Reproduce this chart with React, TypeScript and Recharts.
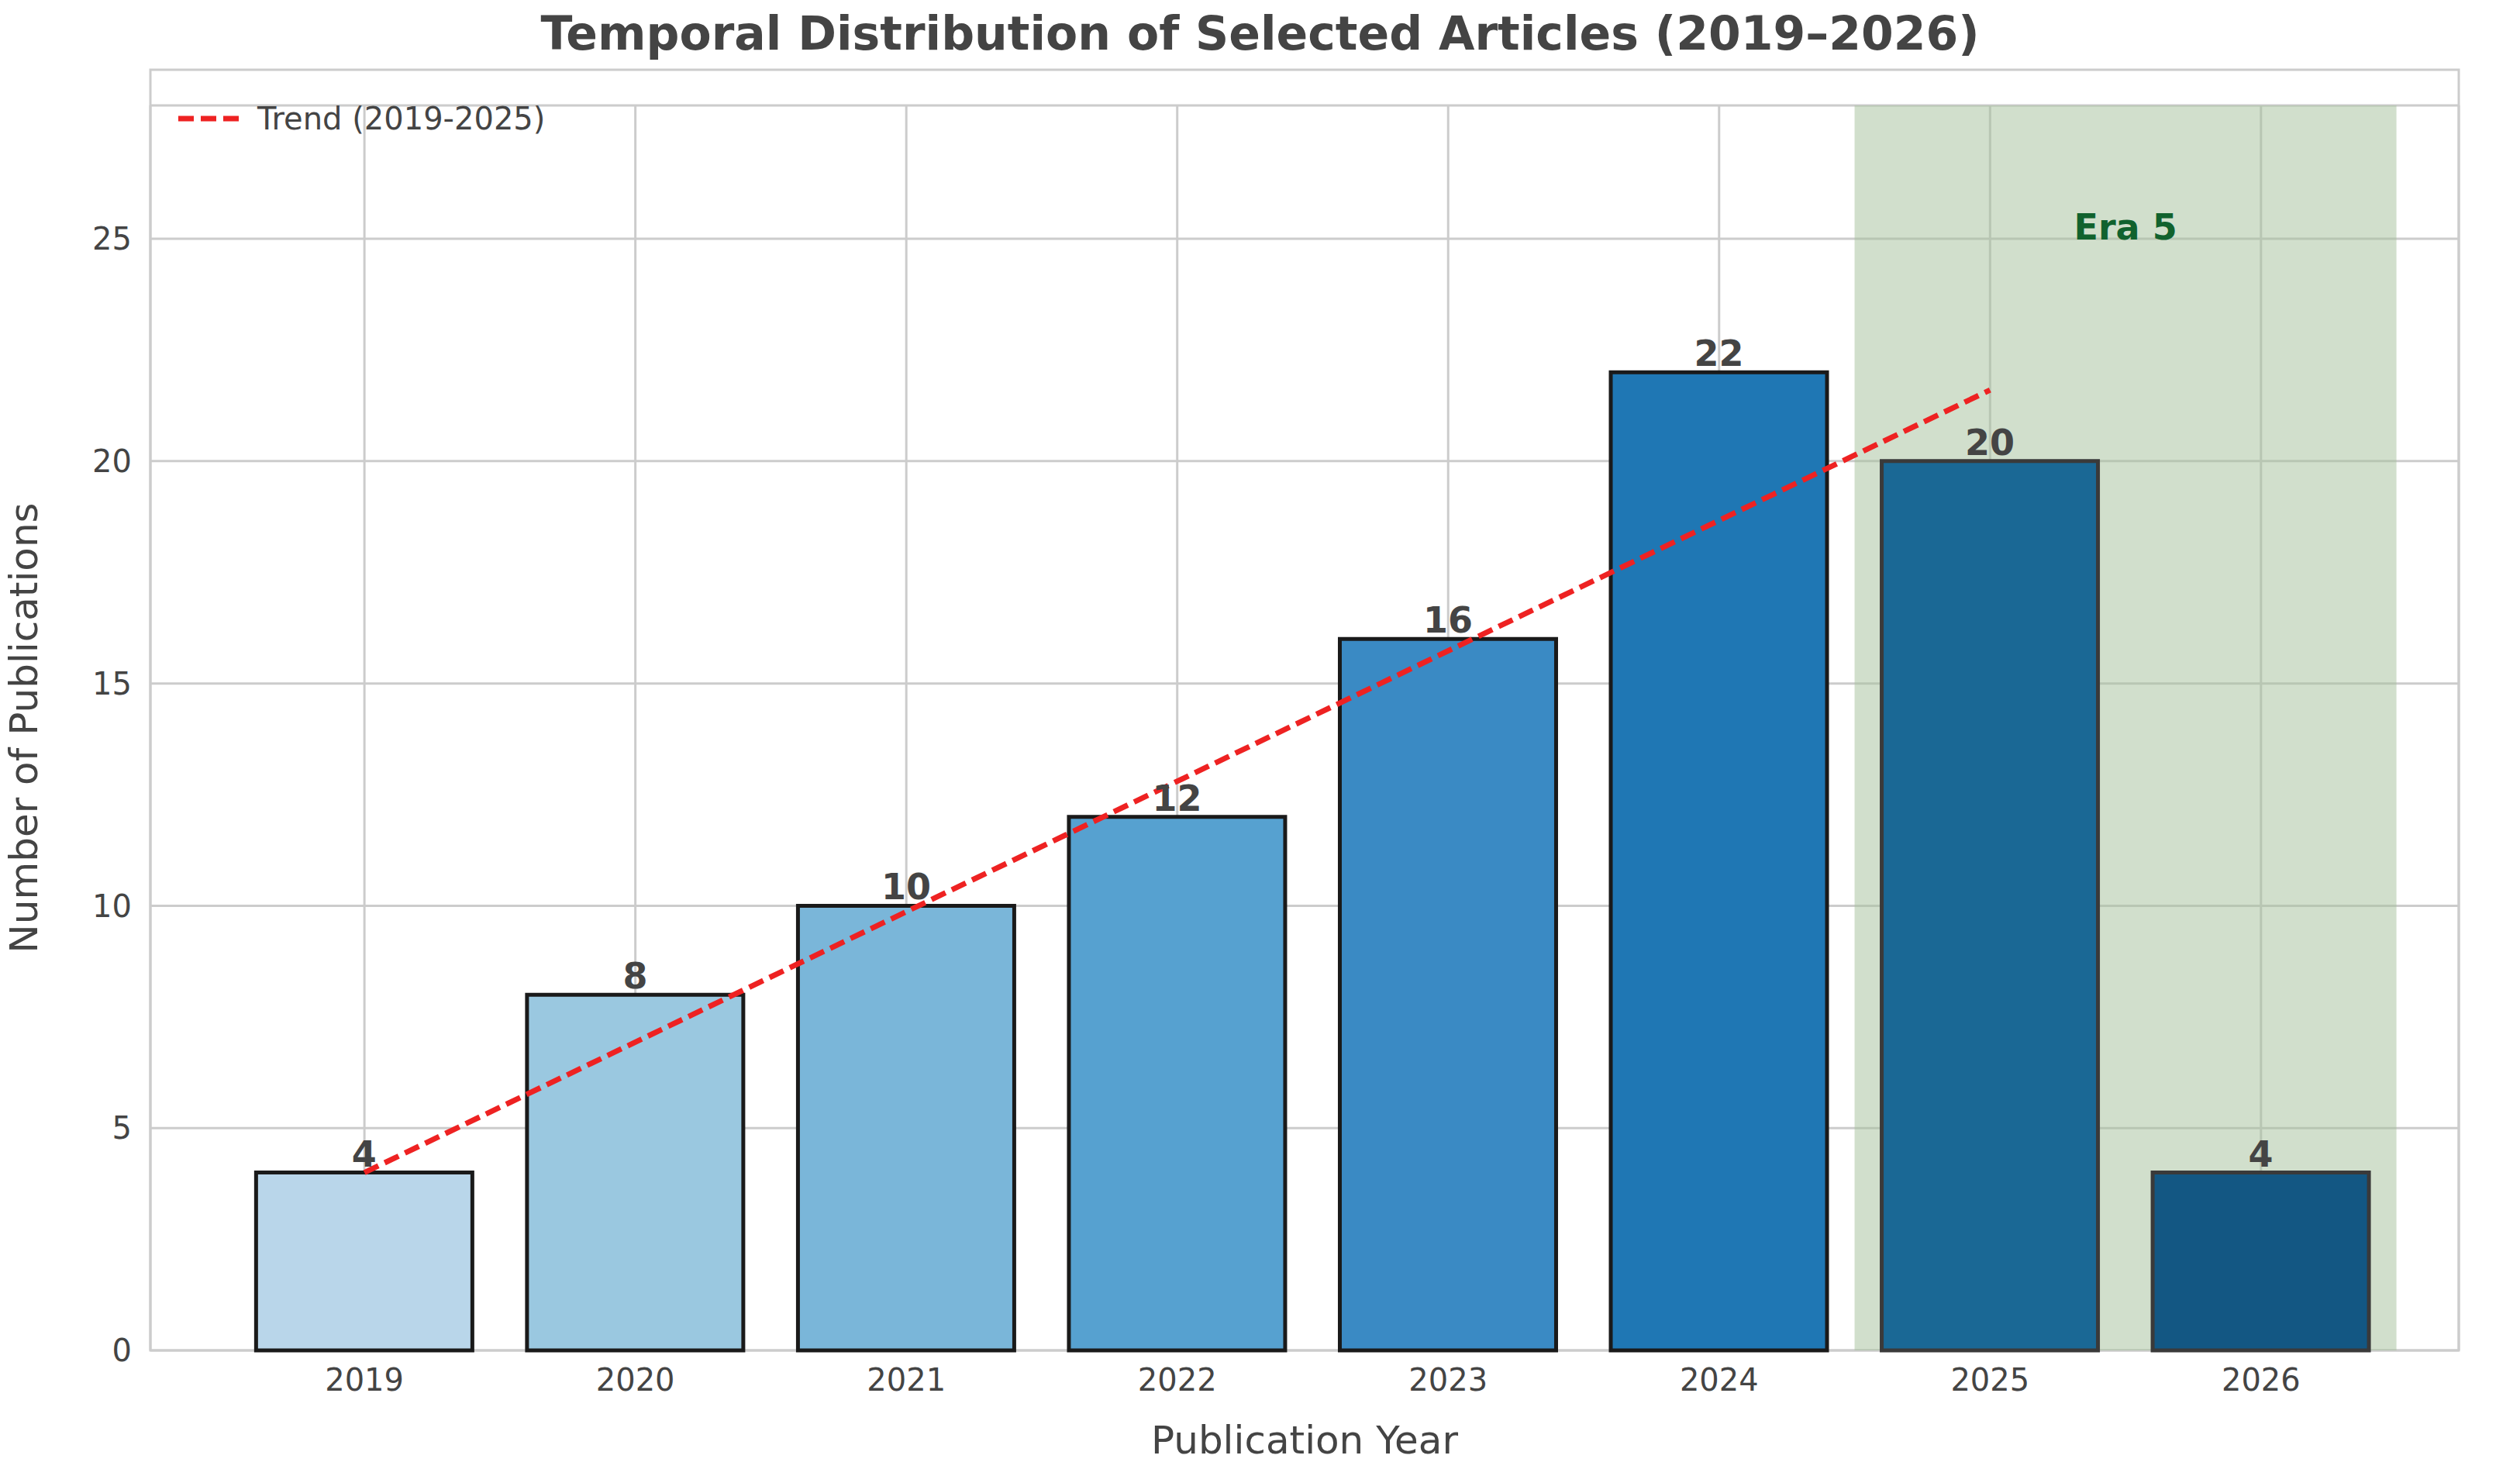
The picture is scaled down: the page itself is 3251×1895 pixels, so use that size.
import { ComposedChart, Bar, Line, XAxis, YAxis, CartesianGrid, ReferenceArea, Cell, LabelList, Legend } from "recharts";

const years = [2019, 2020, 2021, 2022, 2023, 2024, 2025, 2026];
const counts = [4, 8, 10, 12, 16, 22, 20, 4];
const trend = [4, null, null, null, null, null, 21.6, null];
const barColors = ["#b9d6ea", "#9ac8e0", "#7ab6d9", "#56a1d0", "#3a8ac4", "#1f77b4", "#1a6895", "#135783"];
const barEdges = ["#1a1a1a", "#1a1a1a", "#1a1a1a", "#1a1a1a", "#1a1a1a", "#1a1a1a", "#3a3a3a", "#3a3a3a"];
const yTicks = [0, 5, 10, 15, 20, 25];

const data = years.map((y, i) => ({ year: y, count: counts[i], trend: trend[i] }));
const font = "DejaVu Sans, sans-serif";

const LegendBox = () => (
  <div style={{ display: "flex", alignItems: "center", fontFamily: font, fontSize: 40, color: "#444" }}>
    <svg width={80} height={20} style={{ marginRight: 22 }}>
      <line x1={0} y1={10} x2={80} y2={10} stroke="#ee2222" strokeWidth={7} strokeDasharray="20 9" />
    </svg>
    Trend (2019-2025)
  </div>
);

export default function App() {
  return (
    <div style={{ position: "absolute", left: 0, top: 0, width: 3251, height: 1895, background: "#fff" }}>
      <div style={{ position: "absolute", top: 8, width: 3251, textAlign: "center", fontFamily: font, fontWeight: "bold", fontSize: 60, color: "#444" }}>
        Temporal Distribution of Selected Articles (2019–2026)
      </div>
      <ComposedChart width={3251} height={1895} data={data} margin={{ top: 90, right: 79, bottom: 0, left: 0 }} style={{ fontFamily: font }}>
        <CartesianGrid stroke="#cccccc" strokeWidth={3} verticalPoints={undefined} />
        <ReferenceArea x1={2024.5} x2={2026.5} y1={0} y2={28} fill="#a3bf9a" fillOpacity={0.5} stroke="none"
          label={{ value: "Era 5", position: "insideTop", offset: 140, fill: "#11622e", fontSize: 46, fontWeight: "bold" }} />
        <XAxis dataKey="year" type="number" domain={[2018.21, 2026.73]} ticks={years} height={153}
          tick={{ fill: "#444", fontSize: 40 }} tickLine={false} axisLine={false} tickMargin={18}
          label={{ value: "Publication Year", position: "insideBottom", offset: 20, fill: "#444", fontSize: 50 }} />
        <YAxis type="number" domain={[0, 28]} ticks={yTicks} width={194}
          tick={{ fill: "#444", fontSize: 40 }} tickLine={false} axisLine={false} tickMargin={18}
          label={{ value: "Number of Publications", angle: -90, position: "insideLeft", offset: 30, fill: "#444", fontSize: 50, style: { textAnchor: "middle" } }} />
        <Bar dataKey="count" barSize={279} isAnimationActive={false}>
          {data.map((d, i) => (
            <Cell key={d.year} fill={barColors[i]} stroke={barEdges[i]} strokeWidth={5} />
          ))}
          <LabelList dataKey="count" position="top" offset={8} fill="#444" fontSize={46} fontWeight="bold" />
        </Bar>
        <Line dataKey="trend" connectNulls stroke="#ee2222" strokeWidth={7} strokeDasharray="20 9" dot={false} isAnimationActive={false} />
        <Legend verticalAlign="top" align="left" content={<LegendBox />} wrapperStyle={{ top: 130, left: 230, width: "auto" }} />
        <rect x={194} y={90} width={2978} height={1652} fill="none" stroke="#cccccc" strokeWidth={3} />
      </ComposedChart>
    </div>
  );
}
